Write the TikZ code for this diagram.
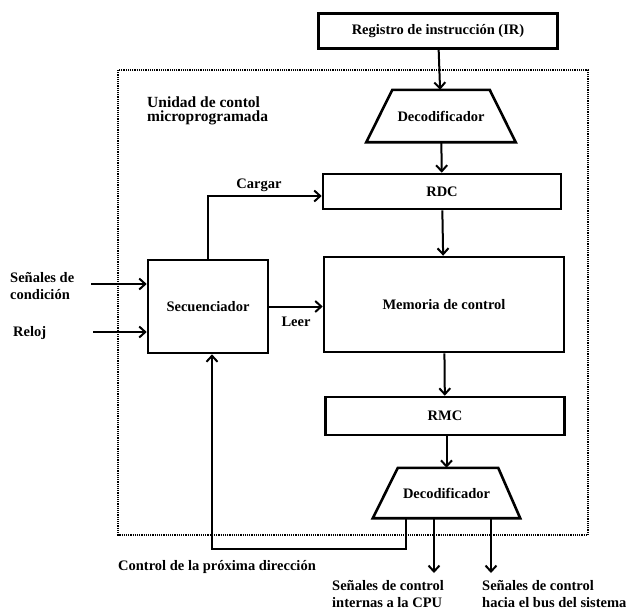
\documentclass[tikz,border=0pt]{standalone}
\usepackage{fontspec}
\setmainfont{Liberation Serif}
\usetikzlibrary{arrows.meta}
\tikzset{
  blk/.style={draw,line width=2.6pt,inner sep=0pt},
  dcd/.style={inner sep=0pt},
  edge/.style={line width=2.6pt,line join=miter},
  lbl/.style={inner sep=0pt,align=left,anchor=west},
  flow/.style={->,line width=2pt},
}
\begin{document}
\begin{tikzpicture}[x=1pt,y=-1pt,>={Straight Barb[length=6pt,width=11pt]},
  font=\fontsize{14.5}{16.5}\selectfont\bfseries]
  \useasboundingbox[fill=white] (0,0) rectangle (634,614);
  \draw[densely dotted,line width=1.2pt] (118,70) rectangle (588,535);
  \node[lbl,font=\fontsize{15.5}{14}\selectfont\bfseries] (ucm) at (147,111) {Unidad de contol\\microprogramada};

  \node[blk,minimum width=239pt,minimum height=35pt] (ir) at (438,31) {Registro de instrucción (IR)};
  \node[dcd,minimum width=149pt,minimum height=52pt] (dec1) at (441,116) {Decodificador};
  \draw[edge] ([xshift=26pt]dec1.north west) -- ([xshift=-26pt]dec1.north east)
    -- (dec1.south east) -- (dec1.south west) -- cycle;
  \node[blk,minimum width=238pt,minimum height=35pt] (rdc) at (442,191.5) {RDC};
  \node[blk,minimum width=240pt,minimum height=95pt] (mem) at (444,304.5) {Memoria de control};
  \node[blk,minimum width=239pt,minimum height=38pt] (rmc) at (445,416) {RMC};
  \node[dcd,minimum width=147pt,minimum height=50pt] (dec2) at (446.5,493) {Decodificador};
  \draw[edge] ([xshift=25pt]dec2.north west) -- ([xshift=-22pt]dec2.north east)
    -- (dec2.south east) -- (dec2.south west) -- cycle;
  \node[blk,minimum width=120pt,minimum height=93pt] (seq) at (208,306.5) {Secuenciador};

  \node[lbl] (cond) at (10,286) {Señales de\\condición};
  \node[lbl] (clk) at (13,333) {Reloj};
  \coordinate (condin) at (91,284);
  \coordinate (clkin) at (93,332);
  \draw[flow] (condin) -- (condin -| seq.west);
  \draw[flow] (clkin) -- (clkin -| seq.west);

  \draw[flow] (ir) -- (dec1);
  \draw[flow] (dec1) -- (rdc);
  \draw[flow] (rdc) -- (mem);
  \draw[flow] (mem) -- (rmc);
  \draw[flow] (rmc.south -| dec2.north) -- (dec2);

  \coordinate (crg) at (208,196);
  \draw[flow] (seq.north) -- (crg) -- (crg -| rdc.west);
  \node (cargar) at (259,185) {Cargar};
  \draw[flow] (seq.east) -- (seq.east -| mem.west);
  \node (leer) at (296,322) {Leer};

  \coordinate (fb) at (406,549);
  \draw[flow] (dec2.south -| fb) -- (fb) -| ([xshift=4pt]seq.south);
  \node[lbl] (cpd) at (118,567) {Control de la próxima dirección};

  \coordinate (out1) at (434,573);
  \coordinate (out2) at (491,573);
  \draw[flow] (dec2.south -| out1) -- (out1);
  \draw[flow] (dec2.south -| out2) -- (out2);
  \node[lbl] (sint) at (332,594) {Señales de control\\internas a la CPU};
  \node[lbl] (sbus) at (482,594) {Señales de control\\hacia el bus del sistema};
\end{tikzpicture}
\end{document}
